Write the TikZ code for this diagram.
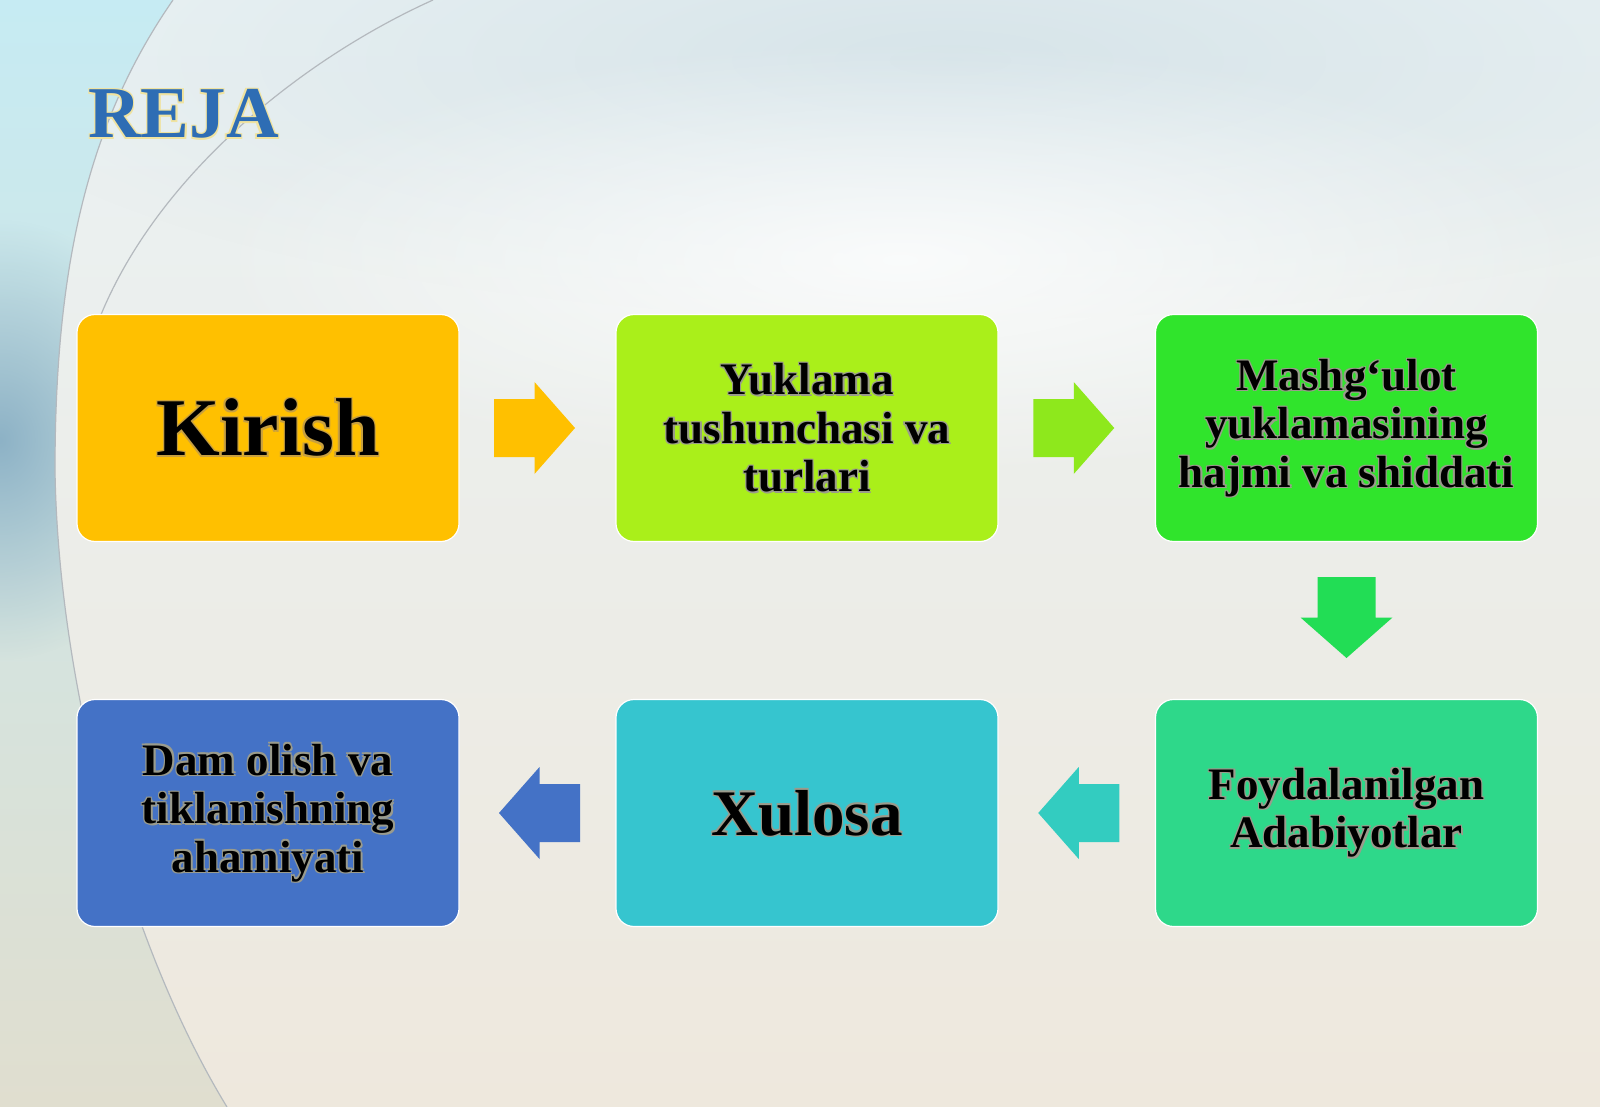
\documentclass[tikz,border=0pt]{standalone}
\usepackage{fontspec}
\setmainfont{Liberation Serif}
\usetikzlibrary{calc,fadings}
\definecolor{bgtop}{HTML}{EAF2F4}
\definecolor{bgmid}{HTML}{FAFAF8}
\definecolor{bgbot}{HTML}{EEE8DD}
\definecolor{cloudc}{HTML}{D2E1E7}
\definecolor{lefttop}{HTML}{C6EBF3}
\definecolor{leftbot}{HTML}{E0DECF}
\definecolor{leftblue}{HTML}{8DB2C6}
\definecolor{arcc}{HTML}{B4B9BE}
\definecolor{cA}{HTML}{FFC000}
\definecolor{cB}{HTML}{AAEF1A}
\definecolor{cC}{HTML}{30E42C}
\definecolor{cD}{HTML}{2ED88A}
\definecolor{cE}{HTML}{36C5CF}
\definecolor{cF}{HTML}{4472C6}
\definecolor{aB}{HTML}{8EE81C}
\definecolor{aC}{HTML}{22DD55}
\definecolor{aD}{HTML}{33CCC0}
\definecolor{haloc}{HTML}{9A9B8C}
\definecolor{halok}{HTML}{C8A040}
\definecolor{rejac}{HTML}{2E6DB4}
\definecolor{rejaglow}{HTML}{F0E3A0}
\tikzfading[name=softblob, inner color=transparent!0, outer color=transparent!100]
\newcommand\txthalo[2][haloc]{\leavevmode
  \rlap{\color{#1}\kern1.4pt\raisebox{-1.4pt}{#2}}%
  \rlap{\color{#1}\kern-1.2pt\raisebox{1.2pt}{#2}}%
  \rlap{\color{#1}\kern1.2pt\raisebox{1.2pt}{#2}}%
  \rlap{\color{#1}\kern-1.2pt\raisebox{-1.2pt}{#2}}#2}
\tikzset{
  box/.style={rectangle, rounded corners=18pt, minimum width=382pt, minimum height=227pt,
    inner sep=0pt, draw=white, line width=1.2pt, align=center, text=black},
  midtext/.style={font=\fontsize{45}{48.5}\selectfont\bfseries},
  barrow/.pic={\fill[#1] (-40.5,-29) -- (0,-29) -- (0,-46) -- (40.5,0) -- (0,46) -- (0,29) -- (-40.5,29) -- cycle;}
}
\begin{document}
\begin{tikzpicture}[x=1pt,y=-1pt]
% background
\useasboundingbox (0,0) rectangle (1600,1107);
\shade[top color=bgtop, middle color=bgmid, bottom color=bgbot] (0,0) rectangle (1600,1107);
\fill[cloudc, path fading=softblob, opacity=0.8] (950,60) ellipse (1000 and 260);
\fill[white, path fading=softblob, opacity=0.8] (900,260) ellipse (700 and 220);
\begin{scope}
  \clip (0,0) -- (173,0) .. controls (90,120) and (55,260) .. (55,470)
        .. controls (58,680) and (125,940) .. (227,1107) -- (0,1107) -- cycle;
  \shade[top color=lefttop, bottom color=leftbot] (0,0) rectangle (260,1107);
  \fill[leftblue, path fading=softblob] (0,440) ellipse (180 and 220);
\end{scope}
\draw[arcc, line width=1.2pt] (173,0) .. controls (90,120) and (55,260) .. (55,470)
        .. controls (58,680) and (125,940) .. (227,1107);
\draw[arcc, line width=1.2pt] (433,0) .. controls (300,60) and (150,180) .. (95,330);
% title
\node[anchor=base west, text=rejac, inner sep=0pt, font=\fontsize{73}{80}\selectfont\bfseries] (reja) at (88,138) {\txthalo[rejaglow]{REJA}};
% boxes
\node[box, fill=cA, font=\fontsize{82}{90}\selectfont\bfseries] (kir) at (268,428) {\txthalo[halok]{Kirish}};
\node[box, fill=cB, midtext] (yuk) at (807,428) {\txthalo{Yuklama}\\\txthalo{tushunchasi va}\\\txthalo{turlari}};
\node[box, fill=cC, midtext] (mas) at (1346.5,428) {\txthalo{Mashg‘ulot}\\\txthalo{yuklamasining}\\\txthalo{hajmi va shiddati}};
\node[box, fill=cD, midtext] (foy) at (1346.5,813) {\txthalo{Foydalanilgan}\\\txthalo{Adabiyotlar}};
\node[box, fill=cE, font=\fontsize{65}{72}\selectfont\bfseries] (xul) at (807,813) {\txthalo{Xulosa}};
\node[box, fill=cF, midtext] (dam) at (268,813) {\txthalo{Dam olish va}\\\txthalo{tiklanishning}\\\txthalo{ahamiyati}};
% block arrows
\pic at ($(kir.east)!0.5!(yuk.west)+(-3,0)$) {barrow=cA};
\pic at ($(yuk.east)!0.5!(mas.west)+(-3,0)$) {barrow=aB};
\pic[rotate=-90] at ($(mas.south)!0.5!(foy.north)+(0,-3)$) {barrow=aC};
\pic[xscale=-1] at ($(foy.west)!0.5!(xul.east)+(2,0)$) {barrow=aD};
\pic[xscale=-1] at ($(xul.west)!0.5!(dam.east)+(2,0)$) {barrow=cF};
\end{tikzpicture}
\end{document}
